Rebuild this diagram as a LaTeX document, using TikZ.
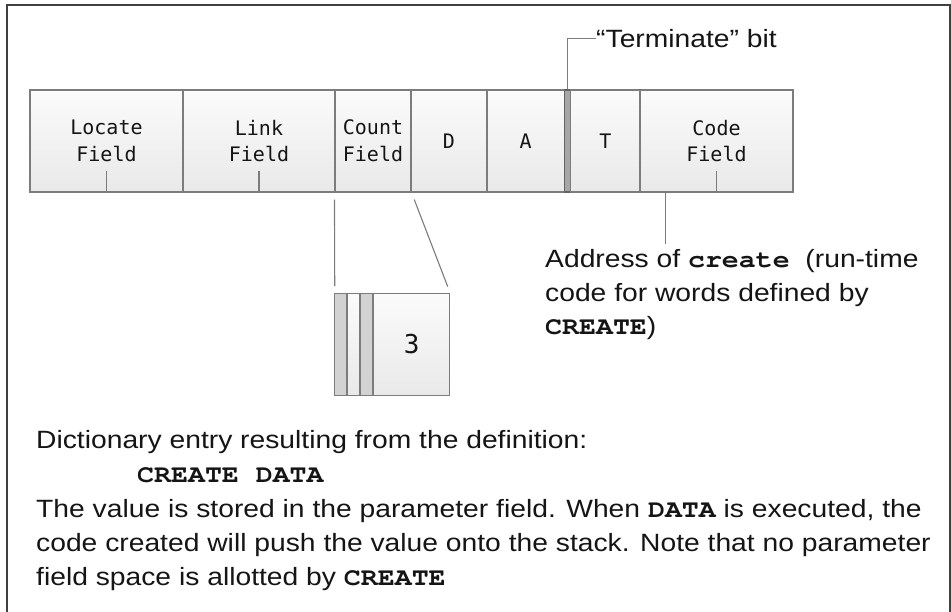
\documentclass[tikz,border=0pt]{standalone}
\usepackage{fontspec}
\setmainfont{Liberation Sans}[FakeStretch=1.13]
\newfontfamily\codefont{texgyrecursor}[Extension=.otf, UprightFont=*-regular,
  BoldFont=*-bold, FakeStretch=1.13]
\newfontfamily\cellfont{DejaVu Sans Mono}
\newcommand{\kw}[1]{{\codefont\bfseries #1}}

\definecolor{ink}{HTML}{151515}
\definecolor{frameline}{HTML}{404040}
\definecolor{cellline}{HTML}{7C7C7C}
\definecolor{cellTop}{HTML}{FBFBFB}
\definecolor{cellBot}{HTML}{E9E9E9}
\definecolor{barfill}{HTML}{D2D2D2}
\definecolor{tbitfill}{HTML}{A6A6A6}

\tikzset{
  frame/.style={draw=frameline, line width=1.6pt},
  cell/.style={draw=cellline, line width=1.1pt, top color=cellTop, bottom color=cellBot,
    inner sep=0pt, minimum height=102pt, align=center, text=ink,
    font=\cellfont\fontsize{20}{26.7}\selectfont},
  tbitbox/.style={draw=cellline!80!black, line width=1.1pt, fill=tbitfill,
    inner sep=0pt, minimum height=102pt},
  bar/.style={draw=cellline, line width=1.1pt, fill=barfill},
  conn/.style={draw=cellline, line width=1.1pt},
  txt/.style={anchor=base west, inner sep=0pt, text=ink,
    font=\fontsize{25}{34}\selectfont},
}

\begin{document}
\begin{tikzpicture}[x=1pt,y=-1pt]
  % page area and outer frame
  \fill[white] (0,0) rectangle (951,611);
  \useasboundingbox (0,0) rectangle (951,611);
  \draw[frame] (7,615) -- (7,5) -- (950,5) -- (950,615);

  % dictionary entry fields
  \node[cell, minimum width=153pt] (locate) at (106.5,141) {Locate\\Field};
  \node[cell, minimum width=152pt] (link)   at (259,141)   {Link\\Field};
  \node[cell, minimum width=76pt]  (count)  at (373,141)   {Count\\Field};
  \node[cell, minimum width=76pt]  (d)      at (449,141)   {D};
  \node[cell, minimum width=77.3pt] (a)     at (525.65,141) {A};
  \node[tbitbox, minimum width=6.4pt] (tbit) at (567.5,141) {};
  \node[cell, minimum width=69.3pt] (t)     at (605.35,141) {T};
  \node[cell, minimum width=153pt] (code)   at (716.5,141) {Code\\Field};

  % pointer ticks inside the address fields
  \draw[conn] (locate.south) -- ++(0,-22);
  \draw[conn] (link.south) -- ++(0,-22);
  \draw[conn] (code.south) -- ++(0,-22);

  % terminate bit callout
  \node[txt] (term) at (596,47.3) {“Terminate” bit};
  \draw[conn] (tbit.north) |- (term.west);

  % expanded count byte
  \node[cell, minimum width=114.4pt] (box) at (392.5,344.7) {};
  \draw[bar] (box.north west) rectangle ++(12.2,102);
  \draw[bar] ([xshift=25.2pt]box.north west) rectangle ++(13,102);
  \node[inner sep=0pt, text=ink, font=\cellfont\fontsize{26}{26}\selectfont]
    (three) at (411.6,344) {3};
  \draw[conn, shorten <=7pt, shorten >=7pt] (count.south west) -- (box.north west);
  \draw[conn, shorten <=7.5pt, shorten >=7pt] (count.south east) -- (box.north east);

  % code field pointer and its note
  \draw[conn] ([xshift=26pt]code.south west) -- ++(0,51) coordinate (addrtip);
  \node[txt] (addr1) at (545,267.5) {Address of \kw{create}\ \ (run-time};
  \node[txt] (addr2) at (545,301)   {code for words defined by};
  \node[txt] (addr3) at (545,334.5) {\kw{CREATE})};

  % explanation
  \node[txt] (exp1) at (36,448.5) {Dictionary entry resulting from the definition:};
  \node[txt] (exp2) at (137,482.5) {\kw{CREATE DATA}};
  \node[txt] (exp3) at (36,517)   {The value is stored in the parameter field. When \kw{DATA} is executed, the};
  \node[txt] (exp4) at (36,551)   {code created will push the value onto the stack. Note that no parameter};
  \node[txt] (exp5) at (36,585)   {field space is allotted by \kw{CREATE}};
\end{tikzpicture}
\end{document}
